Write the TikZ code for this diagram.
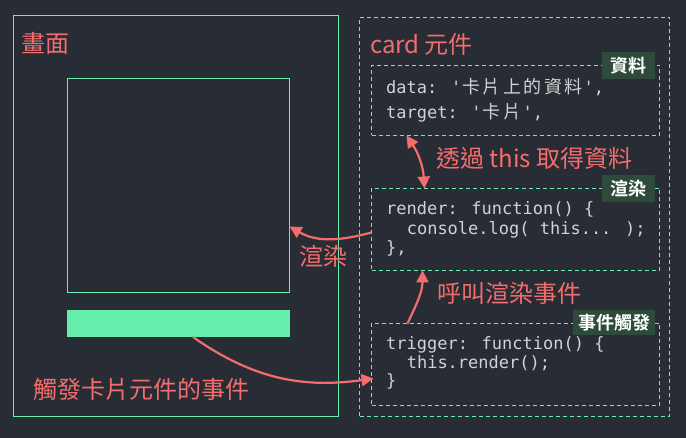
\documentclass[tikz,border=0pt]{standalone}
\usepackage{fontspec}
\usetikzlibrary{arrows.meta,calc}
\newfontfamily\cjk[BoldFont={Noto Sans CJK TC Bold}]{Noto Sans CJK TC}
\newfontfamily\monof[Ligatures=TeXOff]{DejaVu Sans Mono}
\definecolor{bg}{HTML}{282C34}
\definecolor{mint}{HTML}{66EEAD}
\definecolor{salmon}{HTML}{F46D6D}
\definecolor{tagbg}{HTML}{2D4A3A}
\definecolor{codec}{HTML}{D2D2D2}
\newcommand\cc[1]{\makebox[20.4pt]{\cjk\fontsize{18}{20}\selectfont #1}}
\begin{document}
\begin{tikzpicture}[x=1pt,y=1pt,
  greenbox/.style={draw=mint,line width=1.3pt,inner sep=0pt,outer sep=0pt,anchor=north west},
  dbox/.style={draw=mint,line width=1.4pt,dash pattern=on 4pt off 3pt,inner sep=0pt,outer sep=0pt,anchor=north west},
  tagbox/.style={fill=tagbg,text=white,inner sep=0pt,outer sep=0pt,anchor=north west,font=\cjk\bfseries\fontsize{18}{20}\selectfont},
  codeline/.style={text=codec,inner sep=0pt,anchor=base west,font=\monof\fontsize{17}{20}\selectfont},
  redlabel/.style={text=salmon,inner sep=0pt,anchor=west,font=\cjk\fontsize{24}{28}\selectfont},
  redarrow/.style={draw=salmon,line width=2.2pt,-{Triangle[length=12pt,width=12pt]}}]
\fill[bg] (0,0) rectangle (686,-438);
\useasboundingbox (0,0) rectangle (686,-438);
% left: screen
\node[greenbox,minimum width=325pt,minimum height=401pt] (screen) at (13.5,-15.5) {};
\node[greenbox,minimum width=222pt,minimum height=214pt] (view) at (67.5,-78.5) {};
\node[fill=mint,inner sep=0pt,outer sep=0pt,anchor=north west,minimum width=223pt,minimum height=27pt] (bar) at (67,-310) {};
% right: card component
\node[dbox,minimum width=310pt,minimum height=399pt] (card) at (359.5,-17.5) {};
\node[dbox,minimum width=288pt,minimum height=70pt] (data) at (371.5,-65.5) {};
\node[dbox,minimum width=288pt,minimum height=82pt] (render) at (371.5,-188.5) {};
\node[dbox,minimum width=288pt,minimum height=82pt] (trigger) at (371.5,-323.5) {};
% tags
\node[tagbox,minimum width=53pt,minimum height=27pt] (tdata) at (602,-52) {資料};
\node[tagbox,minimum width=53pt,minimum height=27pt] (trender) at (602,-175) {渲染};
\node[tagbox,minimum width=82pt,minimum height=25pt] (ttrig) at (573,-310) {事件觸發};
% code
\node[codeline] (d1) at (386,-94) {data: '\cc{卡}\cc{片}\cc{上}\cc{的}\cc{資}\cc{料}',};
\node[codeline] (d2) at (386,-119) {target: '\cc{卡}\cc{片}',};
\node[codeline] (r1) at (386,-215) {render: function() \{};
\node[codeline] (r2) at (406.6,-235) {console.log( this... );};
\node[codeline] (r3) at (386,-254) {\},};
\node[codeline] (g1) at (386,-350) {trigger: function() \{};
\node[codeline] (g2) at (406.6,-369) {this.render();};
\node[codeline] (g3) at (386,-387) {\}};
% red labels
\node[redlabel] (lscreen) at (21,-43) {畫面};
\node[redlabel] (lcard) at (370,-44) {card 元件};
\node[redlabel] (lthis) at (436,-158) {透過 this 取得資料};
\node[redlabel] (lrender) at (299,-256) {渲染};
\node[redlabel] (lcall) at (437,-293) {呼叫渲染事件};
\node[redlabel] (ltrig) at (33,-389) {觸發卡片元件的事件};
% arrows
\draw[redarrow,{Triangle[length=12pt,width=12pt]}-{Triangle[length=12pt,width=12pt]}] ([xshift=35pt]data.south west) to[bend left=15] ([xshift=53pt]render.north west);
\draw[redarrow] ([yshift=-44pt]render.north west) to[out=195,in=-30] ([yshift=-148pt]view.north east);
\draw[redarrow] ([xshift=36pt]trigger.north west) to[out=65,in=-90] ([xshift=51pt]render.south west);
\draw[redarrow] ([xshift=126pt]bar.south west) to[out=-35,in=188] ([xshift=2pt,yshift=-55pt]trigger.north west);
\end{tikzpicture}
\end{document}
